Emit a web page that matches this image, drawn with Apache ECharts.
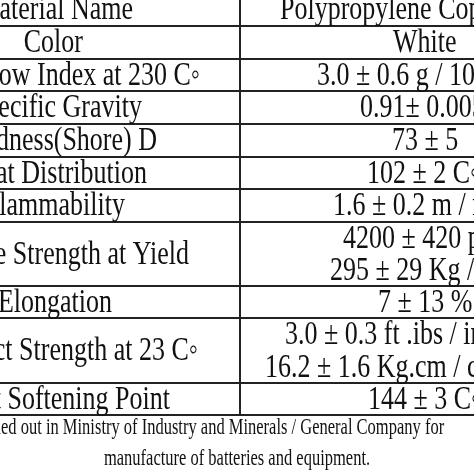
<!DOCTYPE html>
<html><head><meta charset="utf-8">
<script src="https://cdn.jsdelivr.net/npm/echarts@6/dist/echarts.min.js"></script>
<style>html,body{margin:0;background:#fff}#c{width:474px;height:474px}</style>
</head><body><div id="c"></div>
<script>
// table content
const properties = ['Material Name', 'Color', 'Melt Flow Index at 230 C\u25E6', 'Specific Gravity',
  'Hardness(Shore) D', 'Heat Distribution', 'Flammability', 'Tensile Strength at Yield',
  'Elongation', 'Izod Impact Strength at 23 C\u25E6', 'Vicat Softening Point'];
const values = [['Polypropylene Copolymer'], ['White'], ['3.0 \u00B1 0.6 g / 10 min'], ['0.91\u00B1 0.005 g/cm3'],
  ['73 \u00B1 5'], ['102 \u00B1 2 C\u25E6'], ['1.6 \u00B1 0.2 m / min'],
  ['4200 \u00B1 420 psi', '295 \u00B1 29 Kg / cm2'], ['7 \u00B1 13 % L'],
  ['3.0 \u00B1 0.3 ft .ibs / in', '16.2 \u00B1 1.6 Kg.cm / cm'], ['144 \u00B1 3 C\u25E6']];
const footnote = ['*Tests were carried out in Ministry of Industry and Minerals / General Company for',
  'manufacture of batteries and equipment.'];

// layout (picture coordinates)
const rowLines = [-7, 26, 59, 91, 124, 157, 189, 222, 286, 318, 383, 415];
const labelRight = [133, 83, 200, 142, 157, 147, 125, 189, 112, 198, 170];
const valueLeft = [[280], [393], [317], [360], [392], [367], [333], [343, 330], [378], [285, 265], [368]];

const chart = echarts.init(document.getElementById('c'));
const ctx = document.createElement('canvas').getContext('2d');
const g = [];
const line = (x1, y1, x2, y2) => g.push({type: 'line', shape: {x1, y1, x2, y2}, style: {stroke: '#222', lineWidth: 2}});
rowLines.slice(1).forEach(y => line(0, y, 474, y));
line(240, 0, 240, 415);
const txt = (s, x, y, align, size, sy) => g.push({type: 'text', x, y, scaleY: sy, style: {text: s, x: 0, y: 0,
  fill: '#111', font: size + 'px "Liberation Serif"', align, verticalAlign: 'middle'}});
properties.forEach((p, i) => {
  const top = rowLines[i], bot = rowLines[i + 1];
  txt(p, labelRight[i], (top + bot) / 2 + 1, 'right', 26, 1.3);
  const v = values[i], h = (bot - top) / v.length;
  v.forEach((s, k) => txt(s, valueLeft[i][k], top + h * (k + 0.5) + 1, 'left', 26, 1.3));
});
// footnote line 1: "ed out" starts at the left edge
ctx.font = '16.5px "Liberation Serif"';
const cut = ctx.measureText('*Tests were carri').width;
txt(footnote[0], -cut + 1, 428, 'left', 16.5, 1.35);
txt(footnote[1], 237, 459, 'center', 16.5, 1.35);
chart.setOption({animation: false, graphic: g});
</script></body></html>
